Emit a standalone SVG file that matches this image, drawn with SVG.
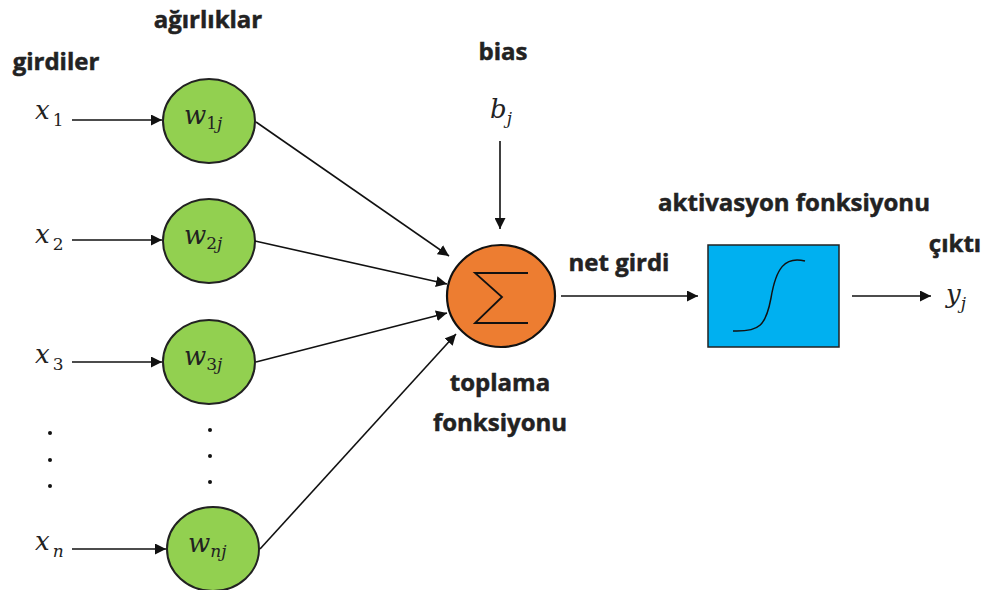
<svg xmlns="http://www.w3.org/2000/svg" width="990" height="590" viewBox="0 0 990 590">
  <style>
    .lbl { font-family: "Open Sans", Lato, sans-serif; font-weight: bold; font-size: 24px; fill: #222; stroke: #222; stroke-width: 0.5; text-anchor: middle; }
    .math { font-family: "DejaVu Serif", "Liberation Serif", serif; font-style: italic; font-size: 26px; fill: #222; }
    .sub { font-size: 17px; }
    .subn { font-style: normal; font-size: 17px; }
    .w { fill: #92D050; stroke: #222; stroke-width: 2; }
    .edge { stroke: #111; stroke-width: 1.6; fill: none; marker-end: url(#arr); }
    .dot { fill: #111; }
  </style>
  <defs>
    <marker id="arr" viewBox="0 0 10 10" refX="10" refY="5" markerWidth="11" markerHeight="11" markerUnits="userSpaceOnUse" orient="auto">
      <path d="M0,0 L10,5 L0,10 z" fill="#111"/>
    </marker>
  </defs>
  <rect width="990" height="590" fill="#fff"/>

  <!-- headings -->
  <text class="lbl" x="56" y="70">girdiler</text>
  <text class="lbl" x="208" y="28">ağırlıklar</text>
  <text class="lbl" x="503" y="60">bias</text>
  <text class="lbl" x="619" y="271">net girdi</text>
  <text class="lbl" x="794" y="211">aktivasyon fonksiyonu</text>
  <text class="lbl" x="955" y="252">çıktı</text>
  <text class="lbl" x="500" y="391">toplama</text>
  <text class="lbl" x="500" y="431">fonksiyonu</text>

  <!-- inputs -->
  <g id="inputs">
    <text class="math" x="35" y="119">x<tspan class="subn" dx="3" dy="7">1</tspan></text>
    <text class="math" x="35" y="243">x<tspan class="subn" dx="3" dy="7">2</tspan></text>
    <text class="math" x="35" y="363">x<tspan class="subn" dx="3" dy="7">3</tspan></text>
    <text class="math" x="35" y="550">x<tspan class="sub" dx="3" dy="7">n</tspan></text>
    <circle class="dot" cx="50" cy="433" r="2"/>
    <circle class="dot" cx="50" cy="460" r="2"/>
    <circle class="dot" cx="50" cy="486" r="2"/>
  </g>

  <!-- weight nodes -->
  <g id="w1">
    <ellipse class="w" cx="209" cy="121" rx="46" ry="42"/>
    <text class="math" x="184" y="124">w<tspan class="subn" dy="5">1</tspan><tspan class="sub">j</tspan></text>
  </g>
  <g id="w2">
    <ellipse class="w" cx="209" cy="241" rx="46" ry="42"/>
    <text class="math" x="184" y="244">w<tspan class="subn" dy="5">2</tspan><tspan class="sub">j</tspan></text>
  </g>
  <g id="w3">
    <ellipse class="w" cx="209" cy="362" rx="46" ry="42"/>
    <text class="math" x="184" y="365">w<tspan class="subn" dy="5">3</tspan><tspan class="sub">j</tspan></text>
  </g>
  <g id="wdots">
    <circle class="dot" cx="210" cy="430" r="2"/>
    <circle class="dot" cx="210" cy="456" r="2"/>
    <circle class="dot" cx="210" cy="482" r="2"/>
  </g>
  <g id="wn">
    <ellipse class="w" cx="213" cy="549" rx="46" ry="42"/>
    <text class="math" x="188" y="552">w<tspan class="sub" dy="5">nj</tspan></text>
  </g>

  <!-- bias -->
  <g id="bias">
    <text class="math" x="490" y="118">b<tspan class="sub" dy="6">j</tspan></text>
  </g>

  <!-- summation node -->
  <g id="sum">
    <ellipse cx="501" cy="296" rx="54" ry="51" fill="#ED7D31" stroke="#111" stroke-width="2.2"/>
    <path d="M528,273 L475,273 L502,297 L475,323 L528,323" fill="none" stroke="#111" stroke-width="1.8"/>
  </g>

  <!-- activation node -->
  <g id="activation">
    <rect x="708" y="245" width="131" height="102" fill="#00B0F0" stroke="#222" stroke-width="1.5"/>
    <path d="M733,331 C760,332 766,325 771,298 C776,268 785,256 805,261" fill="none" stroke="#111" stroke-width="1.5"/>
  </g>

  <!-- output -->
  <g id="output">
    <text class="math" x="946" y="303">y<tspan class="sub" dy="6">j</tspan></text>
  </g>

  <!-- connectors -->
  <g id="connectors">
    <line class="edge" x1="72" y1="120" x2="162" y2="120"/>
    <line class="edge" x1="72" y1="240" x2="162" y2="240"/>
    <line class="edge" x1="72" y1="362" x2="162" y2="362"/>
    <line class="edge" x1="72" y1="549" x2="166" y2="549"/>
    <line class="edge" x1="256" y1="122" x2="449" y2="256"/>
    <line class="edge" x1="255" y1="241" x2="447" y2="284"/>
    <line class="edge" x1="256" y1="362" x2="447" y2="313"/>
    <line class="edge" x1="260" y1="549" x2="456" y2="334"/>
    <line class="edge" x1="500" y1="141" x2="500" y2="229"/>
    <line class="edge" x1="561" y1="296" x2="698" y2="296"/>
    <line class="edge" x1="852" y1="296" x2="931" y2="296"/>
  </g>
</svg>
